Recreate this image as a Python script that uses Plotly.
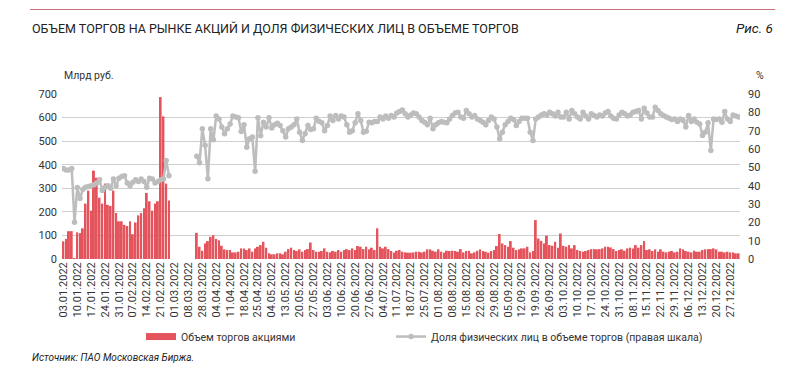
import plotly.graph_objects as go

TITLE = "ОБЪЕМ ТОРГОВ НА РЫНКЕ АКЦИЙ И ДОЛЯ ФИЗИЧЕСКИХ ЛИЦ В ОБЪЕМЕ ТОРГОВ"
FIG_NO = "Рис. 6"
SOURCE = "Источник: ПАО Московская Биржа."
LEFT_UNIT = "Млрд руб."
RIGHT_UNIT = "%"
NAME_VOL = "Объем торгов акциями"
NAME_SHARE = "Доля физических лиц в объеме торгов (правая шкала)"

TICK_LABELS = [
    "03.01.2022", "10.01.2022", "17.01.2022", "24.01.2022", "31.01.2022", "07.02.2022",
    "14.02.2022", "21.02.2022", "01.03.2022", "08.03.2022", "28.03.2022", "04.04.2022",
    "11.04.2022", "18.04.2022", "25.04.2022", "04.05.2022", "13.05.2022", "20.05.2022",
    "27.05.2022", "03.06.2022", "10.06.2022", "20.06.2022", "27.06.2022", "04.07.2022",
    "11.07.2022", "18.07.2022", "25.07.2022", "01.08.2022", "08.08.2022", "15.08.2022",
    "22.08.2022", "29.08.2022", "05.09.2022", "12.09.2022", "19.09.2022", "26.09.2022",
    "03.10.2022", "10.10.2022", "17.10.2022", "24.10.2022", "31.10.2022", "08.11.2022",
    "15.11.2022", "22.11.2022", "29.11.2022", "06.12.2022", "13.12.2022", "20.12.2022",
    "27.12.2022",
]

# Trading volume, bn RUB (Jan - Feb 25)
VOL_JAN_FEB = [75, 85, 118, 118, 3, 113, 110, 130, 235, 290, 205, 375, 345, 260, 235,
               320, 230, 225, 290, 195, 160, 160, 145, 140, 160, 105, 155, 185, 195, 215,
               280, 245, 205, 235, 245, 687, 605, 320, 248]
# Trading suspended (no data)
VOL_GAP = [None] * 9
VOL_MAR_JUN = [111, 52, 35, 66, 76, 94, 101, 85, 80, 56, 41, 38, 38, 28, 28, 31, 45, 45, 38, 45,
               31, 45, 52, 59, 73, 48, 24, 20, 20, 24, 24, 20, 31, 42, 48, 38, 34, 41, 31, 38,
               42, 70, 38, 31, 31, 34, 45, 31, 28, 34, 31, 38, 31, 38, 42, 38, 45, 38, 55, 52,
               42, 52, 41, 48, 38, 130]
VOL_JUL_SEP = [52, 45, 52, 42, 34, 27, 35, 38, 31, 28, 27, 27, 28, 31, 31, 28, 31, 41, 41, 35,
               31, 41, 31, 27, 35, 34, 35, 34, 31, 42, 28, 34, 35, 24, 28, 35, 41, 34, 31, 27,
               34, 38, 55, 106, 66, 59, 52, 76, 48, 38, 41, 45, 45, 52, 28, 34, 165, 87, 77, 66,
               99, 59, 56, 73, 48, 108]
VOL_OCT_DEC = [56, 52, 59, 45, 59, 38, 34, 31, 34, 38, 42, 42, 41, 42, 45, 52, 52, 49, 42, 34,
               38, 41, 35, 45, 48, 45, 59, 48, 59, 76, 38, 41, 34, 41, 31, 41, 31, 28, 31, 34,
               28, 31, 45, 41, 34, 31, 28, 35, 31, 31, 38, 41, 42, 42, 45, 41, 31, 31, 28, 31,
               28, 28, 24, 24]

# Share of individuals, %
SHARE_JAN_FEB = [49.3, 48.6, 48.6, 49.3, 20, 39, 33, 38, 39.2, 39.6, 39.9, 40.5, 41.4, 43.2, 37.4,
                 39.2, 39.9, 38.6, 43.6, 39.9, 44.1, 45, 45.4, 41.4, 39.9, 41.8, 43.2, 42.3, 43.6,
                 42.3, 39.2, 44.1, 43.6, 41.4, 42.3, 43.2, 43.6, 53.7, 45.4]
SHARE_GAP = [None] * 9
SHARE_MAR_JUN = [56, 52.5, 71, 62, 43.8, 71, 65, 78, 76.4, 72, 68.3, 71, 73.7, 78, 77.4, 77, 69.6,
                 73.2, 61, 65.6, 66.5, 47.8, 77, 67.2, 74.6, 72, 77, 71.4, 73.2, 74, 72.8, 70, 66.5,
                 71, 72, 73.2, 76.4, 69.2, 64.7, 68.3, 72.8, 70.7, 71, 76.8, 75.2, 74.3, 70, 72.8,
                 78, 75.5, 78.3, 76.4, 78, 77.4, 73.2, 69.2, 70, 74.3, 79.2, 75.5, 69.2, 69.7, 74.6,
                 74.3, 75, 75]
SHARE_JUL_SEP = [77.4, 76.4, 78, 76.8, 78.3, 77.4, 79.7, 80.4, 81.3, 79.2, 77.4, 78.6, 79.7, 79.2,
                 77.4, 75.5, 74.6, 73.2, 76.8, 71, 73.2, 74.3, 75, 74.6, 74.3, 76.4, 78.3, 79.7, 80,
                 77.4, 76.8, 81, 79.2, 77.4, 78.3, 76.4, 75.5, 74.6, 73.2, 75.5, 77.4, 76.4, 72,
                 65.6, 69.2, 73.2, 75, 76.8, 76.1, 72.8, 75, 76.8, 76.8, 76.8, 69.2, 64.7, 76.4,
                 77.4, 78.6, 79.2, 78.6, 80, 79.2, 78, 80, 77.4]
SHARE_OCT_DEC = [77.4, 80, 76.4, 81, 79.2, 77.4, 76.4, 80, 78, 76.4, 79.2, 78.3, 77.4, 78.6, 78,
                 79.7, 80.4, 78, 76.8, 76.4, 78.6, 80, 79.2, 78, 78.6, 80, 80.4, 81, 76.4, 82.2,
                 79.7, 77.4, 77.4, 82.8, 81, 79.2, 78.3, 77.4, 76.8, 76.1, 76.4, 75, 76.4, 75.5,
                 72, 78.3, 75, 76.4, 74.6, 73.7, 67.4, 69.2, 74.3, 59.2, 76.4, 76.1, 76.4, 74.6,
                 80.4, 76.4, 75, 78.6, 78, 77.4]

volume = VOL_JAN_FEB + VOL_GAP + VOL_MAR_JUN + VOL_JUL_SEP + VOL_OCT_DEC
share = SHARE_JAN_FEB + SHARE_GAP + SHARE_MAR_JUN + SHARE_JUL_SEP + SHARE_OCT_DEC
n = len(volume)
day_index = list(range(n))
tick_pos = day_index[::5][:len(TICK_LABELS)]

BAR_COLOR = "#e4545c"
LINE_COLOR = "#bdbdbd"
TEXT = "#333333"
FONT = "Roboto"

fig = go.Figure()
fig.add_trace(go.Bar(
    x=day_index, y=volume, name=NAME_VOL, marker=dict(color=BAR_COLOR, line=dict(width=0)),
    yaxis="y", showlegend=False,
))
# legend entry for the bars, drawn as a wide flat swatch like the original
fig.add_trace(go.Scatter(
    x=[None], y=[None], name=NAME_VOL, mode="lines", yaxis="y",
    line=dict(color=BAR_COLOR, width=7), legend="legend", hoverinfo="skip",
))
fig.add_trace(go.Scatter(
    x=day_index, y=share, name=NAME_SHARE, mode="lines+markers", yaxis="y2",
    line=dict(color=LINE_COLOR, width=2.5), marker=dict(color=LINE_COLOR, size=5.5),
    connectgaps=False, legend="legend2",
))

legend_common = dict(orientation="h", y=-0.47, xanchor="left", yanchor="middle",
                     font=dict(size=10.5, color=TEXT), bgcolor="rgba(0,0,0,0)")

fig.update_layout(
    width=792, height=379,
    margin=dict(l=54, r=60, t=86, b=127.5),
    paper_bgcolor="white", plot_bgcolor="white",
    font=dict(family=FONT, size=11, color=TEXT),
    bargap=0.3,
    showlegend=True,
    legend=dict(x=0.1165, **legend_common),
    legend2=dict(x=0.4853, **legend_common),
    xaxis=dict(range=[-0.5, n - 0.5], tickmode="array", tickvals=tick_pos, ticktext=TICK_LABELS,
               tickangle=-90, showgrid=False, zeroline=False, showline=False, ticks="",
               automargin=False, tickfont=dict(size=11, color=TEXT)),
    yaxis=dict(range=[0, 700], dtick=100, showgrid=True, gridcolor="#cfcfcf", gridwidth=1,
               zeroline=False, showline=False, ticks="", automargin=False, ticklabelstandoff=4,
               tickfont=dict(size=11, color=TEXT)),
    yaxis2=dict(range=[0, 90], dtick=10, overlaying="y", side="right", showgrid=False,
                zeroline=False, showline=False, ticks="", automargin=False, ticklabelstandoff=7,
                tickfont=dict(size=11, color=TEXT)),
    shapes=[dict(type="line", xref="paper", yref="paper", x0=-0.047, x1=1.052, y0=1.512, y1=1.512,
                 line=dict(color="#c9707c", width=1))],
    annotations=[
        dict(text=TITLE, xref="paper", yref="paper", x=-0.047, y=1.40, xanchor="left",
             yanchor="middle", showarrow=False, font=dict(size=12.5, color="#222222", family=FONT)),
        dict(text="<i>" + FIG_NO + "</i>", xref="paper", yref="paper", x=1.052, y=1.40,
             xanchor="right", yanchor="middle", showarrow=False,
             font=dict(size=13.5, color="#222222", family=FONT)),
        dict(text=LEFT_UNIT, xref="paper", yref="paper", x=0.0, y=1.11, xanchor="left",
             yanchor="middle", showarrow=False, font=dict(size=10.5, color=TEXT)),
        dict(text=RIGHT_UNIT, xref="paper", yref="paper", x=1.021, y=1.11, xanchor="left",
             yanchor="middle", showarrow=False, font=dict(size=10.5, color=TEXT)),
        dict(text="<i>" + SOURCE + "</i>", xref="paper", yref="paper", x=-0.047, y=-0.595,
             xanchor="left", yanchor="middle", showarrow=False,
             font=dict(size=10, color="#222222")),
    ],
)

fig.write_html("out.html")
